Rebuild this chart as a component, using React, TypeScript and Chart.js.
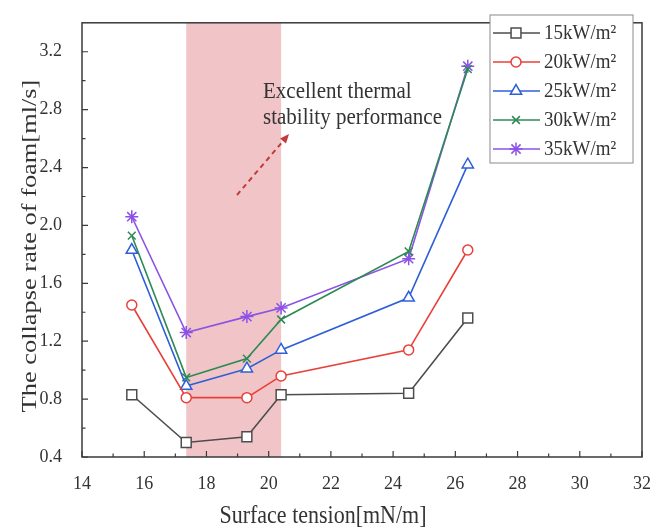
import React, { useEffect, useRef } from "react";
import { Chart, registerables } from "chart.js";
import { drawPoint } from "chart.js/helpers";

Chart.register(...registerables);

const surfaceTension = [15.6, 17.35, 19.3, 20.4, 24.5, 26.4];
const rate15 = [0.83, 0.5, 0.54, 0.83, 0.84, 1.36];
const rate20 = [1.45, 0.81, 0.81, 0.96, 1.14, 1.83];
const rate25 = [1.83, 0.89, 1.01, 1.14, 1.5, 2.42];
const rate30 = [1.93, 0.95, 1.08, 1.35, 1.82, 3.08];
const rate35 = [2.06, 1.26, 1.37, 1.43, 1.77, 3.1];
const seriesLabels = ["15kW/m²", "20kW/m²", "25kW/m²", "30kW/m²", "35kW/m²"];
const xTicks = [14, 16, 18, 20, 22, 24, 26, 28, 30, 32];
const yTicks = [0.4, 0.8, 1.2, 1.6, 2.0, 2.4, 2.8, 3.2];
const bandRange = [17.35, 20.4];
const annotationLines = ["Excellent thermal", "stability performance"];
const xTitle = "Surface tension[mN/m]";
const yTitle = "The collapse rate of foam[ml/s]";

const colors = ["#4d4d4d", "#e8403a", "#2f5fd8", "#2e8a55", "#8c52e6"];
const styles = ["rect", "circle", "triangle", "crossRot", "star"];
const radii = [7, 5, 6.5, 5.5, 6.5];
const allRates = [rate15, rate20, rate25, rate30, rate35];

const FONT = "'Liberation Serif', 'Times New Roman', serif";

function stretchedText(ctx: any, text: string, x: number, y: number, sy: number) {
  ctx.save();
  ctx.translate(x, y);
  ctx.scale(1, sy);
  ctx.fillText(text, 0, 0);
  ctx.restore();
}

const decorPlugin = {
  id: "decor",
  beforeDatasetsDraw(chart: any) {
    const { ctx, chartArea, scales } = chart;
    const x = scales.x;
    const x0 = x.getPixelForValue(bandRange[0]);
    const x1 = x.getPixelForValue(bandRange[1]);
    ctx.save();
    ctx.fillStyle = "#f1c5c7";
    ctx.fillRect(x0, chartArea.top, x1 - x0, chartArea.bottom - chartArea.top);
    ctx.restore();
  },
  afterDraw(chart: any) {
    const { ctx, chartArea, scales } = chart;
    const x = scales.x;
    const y = scales.y;
    const { left, right, top, bottom } = chartArea;
    ctx.save();
    // frame
    ctx.strokeStyle = "#3a3a3a";
    ctx.lineWidth = 1.5;
    ctx.strokeRect(left, top, right - left, bottom - top);
    // inward ticks
    ctx.lineWidth = 1.2;
    ctx.beginPath();
    for (let v = 14; v <= 32; v += 1) {
      const px = x.getPixelForValue(v);
      const len = v % 2 === 0 ? 6 : 3.5;
      ctx.moveTo(px, bottom);
      ctx.lineTo(px, bottom - len);
    }
    for (let i = 0; i <= 14; i++) {
      const v = 0.4 + i * 0.2;
      const py = y.getPixelForValue(v);
      const len = i % 2 === 0 ? 6 : 3.5;
      ctx.moveTo(left, py);
      ctx.lineTo(left + len, py);
    }
    ctx.stroke();

    // annotation text
    ctx.fillStyle = "#333";
    ctx.font = `21px ${FONT}`;
    ctx.textAlign = "left";
    ctx.textBaseline = "middle";
    stretchedText(ctx, annotationLines[0], 263, 92, 1.05);
    stretchedText(ctx, annotationLines[1], 263, 118, 1.05);

    // dashed arrow
    const ax0 = 237, ay0 = 195, ax1 = 289, ay1 = 134;
    ctx.strokeStyle = "#c43a3a";
    ctx.fillStyle = "#c43a3a";
    ctx.lineWidth = 2;
    ctx.setLineDash([5, 4]);
    ctx.beginPath();
    ctx.moveTo(ax0, ay0);
    ctx.lineTo(ax1 - 5, ay1 + 6);
    ctx.stroke();
    ctx.setLineDash([]);
    const ang = Math.atan2(ay1 - ay0, ax1 - ax0);
    ctx.beginPath();
    ctx.moveTo(ax1, ay1);
    ctx.lineTo(ax1 - 10 * Math.cos(ang - 0.4), ay1 - 10 * Math.sin(ang - 0.4));
    ctx.lineTo(ax1 - 10 * Math.cos(ang + 0.4), ay1 - 10 * Math.sin(ang + 0.4));
    ctx.closePath();
    ctx.fill();

    // legend
    const lx = 490, ly = 15, lw = 143, lh = 148;
    ctx.fillStyle = "#fff";
    ctx.fillRect(lx, ly, lw, lh);
    ctx.strokeStyle = "#8a8a8a";
    ctx.lineWidth = 1;
    ctx.strokeRect(lx, ly, lw, lh);
    for (let i = 0; i < seriesLabels.length; i++) {
      const cy = ly + 18 + i * 29;
      ctx.strokeStyle = colors[i];
      ctx.lineWidth = 1.5;
      ctx.beginPath();
      ctx.moveTo(lx + 3, cy);
      ctx.lineTo(lx + 50, cy);
      ctx.stroke();
      ctx.fillStyle = "#fff";
      drawPoint(ctx, { pointStyle: styles[i], radius: radii[i], rotation: 0, borderWidth: 1.5 } as any, lx + 26, cy);
      ctx.fillStyle = "#333";
      ctx.font = `19px ${FONT}`;
      ctx.textAlign = "left";
      ctx.textBaseline = "middle";
      stretchedText(ctx, seriesLabels[i], lx + 54, cy + 1, 1.1);
    }

    // axis titles
    ctx.fillStyle = "#333";
    ctx.font = `22px ${FONT}`;
    ctx.textAlign = "center";
    ctx.textBaseline = "middle";
    stretchedText(ctx, xTitle, 323, 517, 1.1);
    ctx.save();
    ctx.translate(30, 246);
    ctx.rotate(-Math.PI / 2);
    ctx.scale(1.2, 1);
    ctx.fillText(yTitle, 0, 0);
    ctx.restore();
    ctx.restore();
  },
};

export default function App() {
  const ref = useRef<HTMLCanvasElement | null>(null);
  useEffect(() => {
    if (!ref.current) return;
    const datasets = allRates.map((rates, i) => ({
      label: seriesLabels[i],
      data: surfaceTension.map((v, j) => ({ x: v, y: rates[j] })),
      borderColor: colors[i],
      backgroundColor: "#ffffff",
      pointBorderColor: colors[i],
      pointBackgroundColor: "#ffffff",
      pointStyle: styles[i],
      pointRadius: radii[i],
      pointBorderWidth: 1.5,
      borderWidth: 1.6,
      tension: 0,
      fill: false,
    }));
    const chart = new Chart(ref.current, {
      type: "line",
      data: { datasets },
      options: {
        responsive: false,
        animation: false,
        layout: { padding: { top: 7, right: 19, left: 0, bottom: 0 } },
        plugins: { legend: { display: false }, tooltip: { enabled: false } },
        scales: {
          x: {
            type: "linear",
            min: 14,
            max: 32,
            afterBuildTicks: (s: any) => {
              s.ticks = xTicks.map((v) => ({ value: v }));
            },
            afterFit: (s: any) => {
              s.height = 74;
            },
            grid: { display: false },
            border: { display: false },
            ticks: {
              padding: 8,
              color: "#333",
              font: { family: FONT, size: 18 },
              callback: (v: any) => String(v),
            },
          },
          y: {
            type: "linear",
            min: 0.4,
            max: 3.4,
            afterBuildTicks: (s: any) => {
              s.ticks = yTicks.map((v) => ({ value: v }));
            },
            afterFit: (s: any) => {
              s.width = 82;
            },
            grid: { display: false },
            border: { display: false },
            ticks: {
              padding: 12,
              color: "#333",
              font: { family: FONT, size: 18 },
              callback: (v: any) => Number(v).toFixed(1),
            },
          },
        },
      } as any,
      plugins: [decorPlugin],
    });
    return () => chart.destroy();
  }, []);
  return (
    <div style={{ position: "fixed", left: 0, top: 0, width: 661, height: 531, background: "#fff" }}>
      <canvas ref={ref} width={661} height={531} style={{ width: 661, height: 531 }} />
    </div>
  );
}
